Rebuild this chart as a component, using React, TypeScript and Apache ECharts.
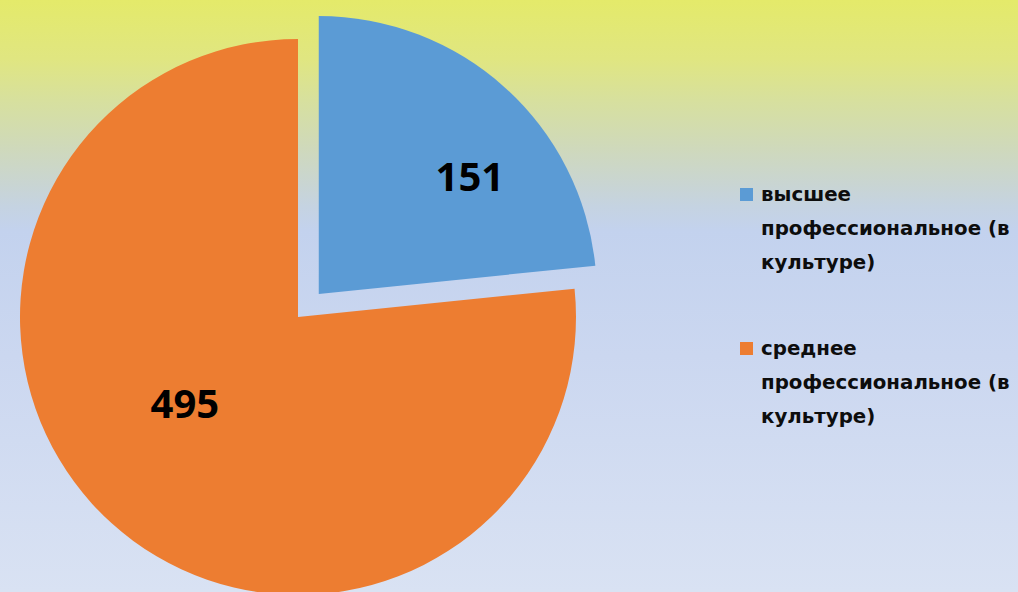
import React, { useEffect, useRef } from "react";
import * as echarts from "echarts";

const categories = [
  "высшее профессиональное (в культуре)",
  "среднее профессиональное (в культуре)",
];
const values = [151, 495];
const legendLines: Record<string, string> = {
  "высшее профессиональное (в культуре)": "высшее\nпрофессиональное (в\nкультуре)",
  "среднее профессиональное (в культуре)": "среднее\nпрофессиональное (в\nкультуре)",
};
const colors = ["#5b9bd5", "#ed7d31"];
const labelShift = [
  [56, -13],
  [-18, -20],
];

export default function App() {
  const ref = useRef<HTMLDivElement>(null);
  useEffect(() => {
    document.body.style.margin = "0";
    if (!ref.current) return;
    const chart = echarts.init(ref.current, null, { renderer: "svg" });
    const legendText = {
      fontFamily: "DejaVu Sans",
      fontWeight: "bold",
      fontSize: 19.8,
      color: "#0d0d0d",
      lineHeight: 34,
      padding: [0, 0, 0, 3],
    };
    chart.setOption({
      animation: false,
      backgroundColor: {
        type: "linear",
        x: 0,
        y: 0,
        x2: 0,
        y2: 1,
        colorStops: [
          { offset: 0, color: "#e4ea6a" },
          { offset: 0.1, color: "#e0e681" },
          { offset: 0.17, color: "#d7e09e" },
          { offset: 0.25, color: "#cfd9bb" },
          { offset: 0.31, color: "#c9d5d2" },
          { offset: 0.35, color: "#c5d3e2" },
          { offset: 0.39, color: "#c3d2ee" },
          { offset: 0.6, color: "#cbd7f0" },
          { offset: 1, color: "#d9e2f3" },
        ],
      },
      legend: categories.map((name, i) => ({
        data: [name],
        orient: "vertical",
        left: 740,
        top: 109.5 + i * 154,
        padding: 0,
        icon: "rect",
        itemWidth: 13,
        itemHeight: 13,
        selectedMode: false,
        formatter: (n: string) => "\n\n" + (legendLines[n] || n),
        textStyle: legendText,
      })),
      series: [
        {
          type: "pie",
          center: [298, 317],
          radius: 278,
          startAngle: 90,
          clockwise: true,
          selectedMode: "single",
          selectedOffset: 31,
          avoidLabelOverlap: false,
          emphasis: { disabled: true, scale: false },
          label: {
            show: true,
            position: "inside",
            formatter: "{c}",
            fontFamily: "Open Sans",
            fontWeight: "bold",
            fontSize: 40,
            color: "#000000",
          },
          labelLine: { show: false },
          labelLayout: (p: any) => ({
            dx: labelShift[p.dataIndex][0],
            dy: labelShift[p.dataIndex][1],
          }),
          data: categories.map((name, i) => ({
            name,
            value: values[i],
            selected: i === 0,
            itemStyle: { color: colors[i] },
          })),
        },
      ],
    });
    return () => chart.dispose();
  }, []);
  return <div ref={ref} style={{ width: 1018, height: 592 }} />;
}
